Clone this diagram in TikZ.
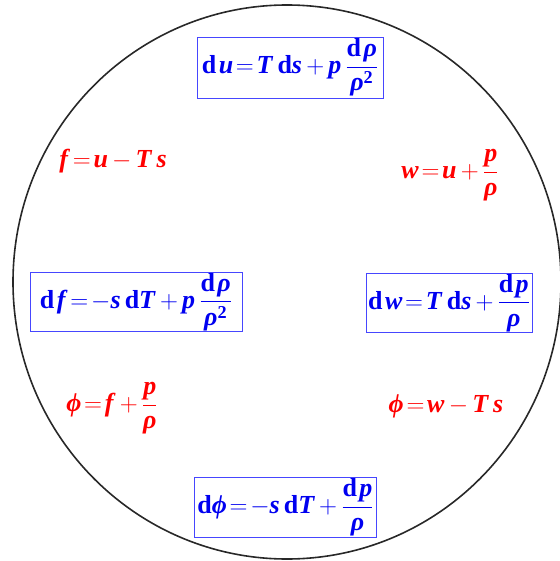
\documentclass[tikz,border=0pt]{standalone}
\usepackage{amsmath}
\usepackage{fontspec}
\setmainfont{Liberation Serif}
\newcommand\V[1]{\textbf{\textit{#1}}}
\newcommand\D{\textbf{d}}
\newcommand\Dk{\textbf{d}\kern2.5pt}
\definecolor{boxblue}{RGB}{70,70,255}
\definecolor{txtblue}{RGB}{0,0,240}
\definecolor{txtred}{RGB}{255,0,0}
\definecolor{rim}{RGB}{40,40,40}
\tikzset{
  eqbox/.style={draw=boxblue, line width=0.9pt, text=txtblue, inner sep=1pt, minimum height=58pt,
    font=\fontsize{26}{30}\selectfont},
  eqred/.style={text=txtred, inner sep=0pt, font=\fontsize{26}{30}\selectfont}
}
\begin{document}
\begin{tikzpicture}[x=1pt,y=-1pt]
\thickmuskip=2mu plus 1mu
\medmuskip=3mu plus 1mu
\useasboundingbox (0,0) rectangle (559,561);
\draw[rim, line width=1.6pt] (287,282) ellipse [x radius=274, y radius=277];
\node[eqbox, minimum width=186pt, minimum height=61pt] (du) at (290,67.5)
  {$\Dk\V{u}=\V{T}\,\D\V{s}+\V{p}\,\dfrac{\Dk\V{ρ}}{\V{ρ}^{\textbf{2}}}$};
\node[eqbox, minimum width=212pt] (df) at (136,302)
  {$\Dk\V{f}=-\V{s}\,\D\V{T}+\V{p}\,\dfrac{\Dk\V{ρ}}{\V{ρ}^{\textbf{2}}}$};
\node[eqbox, minimum width=166pt] (dw) at (449,303)
  {$\Dk\V{w}=\V{T}\,\D\V{s}+\dfrac{\Dk\V{p}}{\V{ρ}}$};
\node[eqbox, minimum width=182pt, minimum height=59pt] (dphi) at (285.5,507.5)
  {$\D\V{ϕ}=-\V{s}\,\D\V{T}+\dfrac{\Dk\V{p}}{\V{ρ}}$};
\node[eqred] (f) at (113,161) {$\V{f}=\V{u}-\V{T}\,\V{s}$};
\node[eqred] (w) at (450,175) {$\V{w}=\V{u}+\dfrac{\V{p}}{\V{ρ}}$};
\node[eqred] (phif) at (112,408) {$\V{ϕ}=\V{f}+\dfrac{\V{p}}{\V{ρ}}$};
\node[eqred] (phiw) at (446,406) {$\V{ϕ}=\V{w}-\V{T}\,\V{s}$};
\end{tikzpicture}
\end{document}
